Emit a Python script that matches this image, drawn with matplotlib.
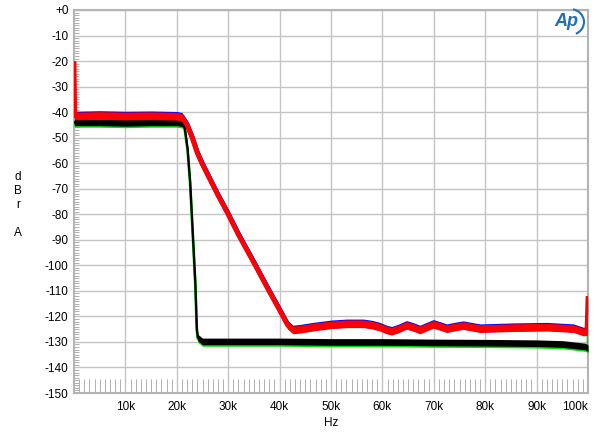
import matplotlib
matplotlib.use("Agg")
import matplotlib.pyplot as plt
from matplotlib.patches import Arc
from matplotlib.ticker import MultipleLocator
import numpy as np

plt.rcParams['font.family'] = ['Liberation Sans', 'DejaVu Sans']

# ---- data (frequency in kHz, level in dBr A) ----
red_f = [0.0, 0.15, 5, 10, 15, 20, 21, 22, 23, 24, 25, 26, 28, 30, 32, 35, 38.1, 40, 41.6, 42.6,
         44, 46.5, 50, 53, 56.3, 58, 59.5, 60.8, 61.8, 63, 64.7, 66, 67.3, 68.6, 69.9, 71.2, 72.5,
         74, 75.7, 79, 85.5, 92, 97.2, 99.1, 99.8, 100]
red_db = [-21, -41.5, -41.3, -41.5, -41.4, -41.6, -42.0, -45.0, -50.0, -56.0, -60.5, -64.5, -72.5,
          -80.0, -88.0, -99.0, -110.6, -117.5, -123.5, -125.3,
          -125.0, -124.2, -123.3, -122.9, -122.9, -123.4, -124.2, -125.3, -125.8, -125.0, -123.5,
          -124.3, -125.3, -124.2, -123.1, -123.9, -124.8, -124.2, -123.6, -124.8, -124.4, -124.2,
          -124.8, -126.1, -126.0, -113.0]
blue_f = red_f[1:-1]
blue_db = [v + 0.25 for v in red_db[1:-1]]

black_f = [0.05, 5, 10, 15, 20, 21, 21.5, 22.1, 22.6, 23.1, 23.6, 23.9, 24.1, 25, 30, 40, 50, 60,
           70, 80, 90, 95, 99.5, 100]
black_db = [-44.0, -44.0, -44.2, -44.0, -44.0, -44.3, -45.5, -54.4, -67.5, -87.1, -106.7, -125.0,
            -128.3, -129.8, -129.8, -129.8, -130.0, -130.0, -130.2, -130.3, -130.5, -130.8,
            -131.8, -132.5]
green_f = black_f + [100]
green_db = [v - 0.5 for v in black_db] + [-128.0]

x_major = [10, 20, 30, 40, 50, 60, 70, 80, 90, 100]
x_labels = ['10k', '20k', '30k', '40k', '50k', '60k', '70k', '80k', '90k', '100k']
y_major = list(range(-150, 1, 10))
y_labels = ['+0' if v == 0 else str(v) for v in y_major]

# ---- figure ----
fig = plt.figure(figsize=(6.0, 4.38), dpi=100)
ax = fig.add_axes([74/600, 1 - 393/438, (588 - 74)/600, (393 - 10)/438])
ax.set_xlim(0, 100)
ax.set_ylim(-150, 0)

def trace(f, d, color, lw, band, z):
    f = np.asarray(f); d = np.asarray(d)
    ax.fill_between(f, d - band, d + band, color=color, lw=0, zorder=z)
    ax.plot(f, d, color=color, lw=lw, zorder=z, solid_joinstyle='round')

trace(green_f, green_db, '#00dd00', 2.0, 1.4, 3)
trace(black_f, black_db, '#000000', 1.6, 1.3, 4)
trace(blue_f, blue_db, '#0000ff', 3.5, 1.6, 5)
trace(red_f, red_db, '#ff0000', 3.5, 1.5, 6)

# grid
ax.set_xticks(x_major)
ax.set_xticklabels(x_labels)
ax.set_yticks(y_major)
ax.set_yticklabels(y_labels)
ax.grid(True, which='major', color='#c4c4c4', lw=1.0, zorder=1)
ax.set_axisbelow(True)
ax.tick_params(which='major', length=0, labelsize=8.5, colors='black', pad=4)
ax.tick_params(axis='x', which='major', pad=6)
labs = ax.get_xticklabels()
labs[-1].set_horizontalalignment('right')

# minor ticks
ax.yaxis.set_minor_locator(MultipleLocator(1))
ax.xaxis.set_minor_locator(MultipleLocator(1))
ax.tick_params(axis='y', which='minor', direction='in', length=3.6, width=0.7,
               color='#b0b0b0', left=True, right=False)
ax.tick_params(axis='x', which='minor', direction='in', length=10, width=0.7,
               color='#b0b0b0', bottom=True, top=False)

for s in ax.spines.values():
    s.set_color('#b4b4b4')
    s.set_linewidth(1.5)

# labels
fig.text(331/600, 1 - 423/438, 'Hz', ha='center', va='center', fontsize=8.5)
fig.text(18/600, 1 - 205/438, 'd\nB\nr\n\nA', ha='center', va='center', fontsize=8.5,
         linespacing=1.25)

# Ap logo
fig.text(566/600, 1 - 22/438, 'Ap', ha='center', va='center', fontsize=13,
         style='italic', fontweight='bold', color='#1f6fb8')
arc = Arc((570/600, 1 - 22/438), 28/600, 26/438, theta1=-70, theta2=80,
          transform=fig.transFigure, color='#1f6fb8', lw=1.5)
fig.add_artist(arc)

fig.savefig('out.png', dpi=100, facecolor='white')
